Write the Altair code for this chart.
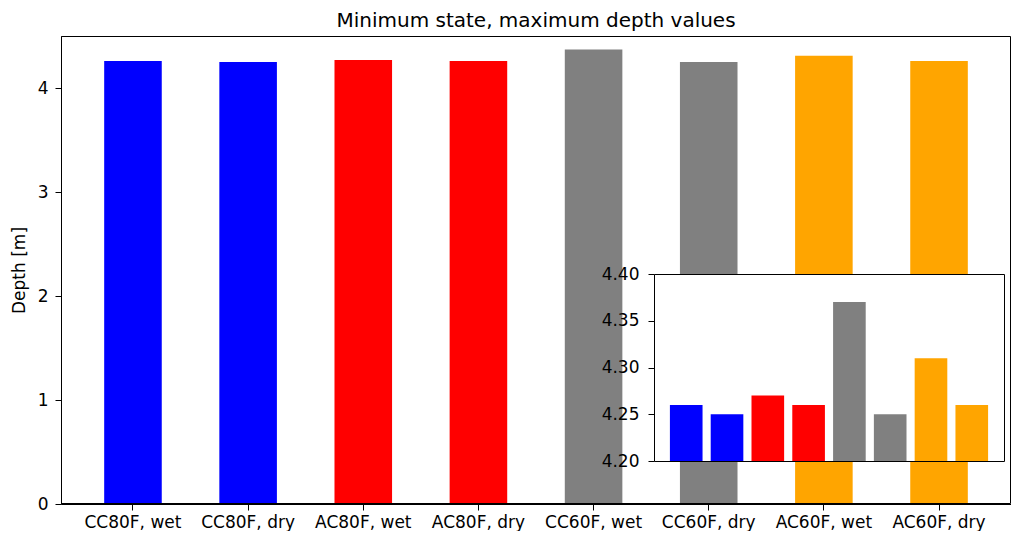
import altair as alt
import pandas as pd

categories = ["CC80F, wet", "CC80F, dry", "AC80F, wet", "AC80F, dry",
              "CC60F, wet", "CC60F, dry", "AC60F, wet", "AC60F, dry"]
depths = [4.26, 4.25, 4.27, 4.26, 4.37, 4.25, 4.31, 4.26]
colors = ["blue", "blue", "red", "red", "gray", "gray", "orange", "orange"]
main_ticks = [0, 1, 2, 3, 4]
inset_ticks = [4.20, 4.25, 4.30, 4.35, 4.40]

df = pd.DataFrame({"cat": categories, "depth": depths, "color": colors})

FONT = "DejaVu Sans"
W, H = 950, 468
IX0, IX1 = 593, 943
IY0, IY1 = 238, 425

main = alt.Chart(df).mark_bar().encode(
    x=alt.X("cat:N", sort=categories,
            scale=alt.Scale(paddingInner=0.5, paddingOuter=0.375),
            axis=alt.Axis(title=None, labelAngle=0, tickSize=6, labelPadding=4,
                          labelFontSize=17, labelFont=FONT, labelColor="black",
                          domainColor="black", tickColor="black", zindex=1)),
    y=alt.Y("depth:Q", scale=alt.Scale(domain=[0, 4.5], nice=False),
            axis=alt.Axis(title="Depth [m]", values=main_ticks, format="d",
                          tickSize=6, labelPadding=7, labelFontSize=17,
                          labelFont=FONT, labelColor="black",
                          titleFont=FONT, titleFontSize=17, titleFontWeight="normal",
                          titleColor="black", titlePadding=9,
                          domainColor="black", tickColor="black", grid=False, zindex=1)),
    color=alt.Color("color:N", scale=None),
)

border = alt.Chart(alt.Data(values=[{}])).mark_rect(
    filled=False, stroke="black", strokeWidth=1
).encode(
    x=alt.value(0.5), x2=alt.value(W - 0.5), y=alt.value(0.5), y2=alt.value(H - 0.5)
)

frame = alt.Chart(alt.Data(values=[{}])).mark_rect(
    fill="white", stroke="black", strokeWidth=1
).encode(
    x=alt.value(IX0 + 0.5), x2=alt.value(IX1 + 0.5),
    y=alt.value(IY0 + 0.5), y2=alt.value(IY1 + 0.5)
)

inset = alt.Chart(df).mark_bar().encode(
    x=alt.X("cat:N", sort=categories,
            scale=alt.Scale(range=[IX0, IX1], paddingInner=0.2, paddingOuter=0.39),
            axis=None),
    y=alt.Y("depth:Q",
            scale=alt.Scale(domain=[4.2, 4.4], range=[IY1, IY0], zero=False, nice=False),
            axis=alt.Axis(orient="left", offset=-IX0, title=None, values=inset_ticks,
                          format=".2f", tickSize=6, labelPadding=9, labelFontSize=17,
                          labelFont=FONT, labelColor="black", domain=False,
                          tickColor="black", grid=False, zindex=2)),
    y2=alt.datum(4.2),
    color=alt.Color("color:N", scale=None),
)

chart = alt.layer(main, border, frame, inset).resolve_scale(
    x="independent", y="independent"
).properties(
    width=W, height=H,
    autosize=alt.AutoSizeParams(type="none"),
    padding={"left": 53, "top": 28, "right": 0, "bottom": 27},
    title=alt.TitleParams("Minimum state, maximum depth values", fontSize=20,
                          fontWeight="normal", font=FONT, color="black",
                          offset=5, anchor="middle"),
).configure_view(stroke=None).configure(background="white")

chart.save("out.html", embed_options={"renderer": "svg", "actions": False})
